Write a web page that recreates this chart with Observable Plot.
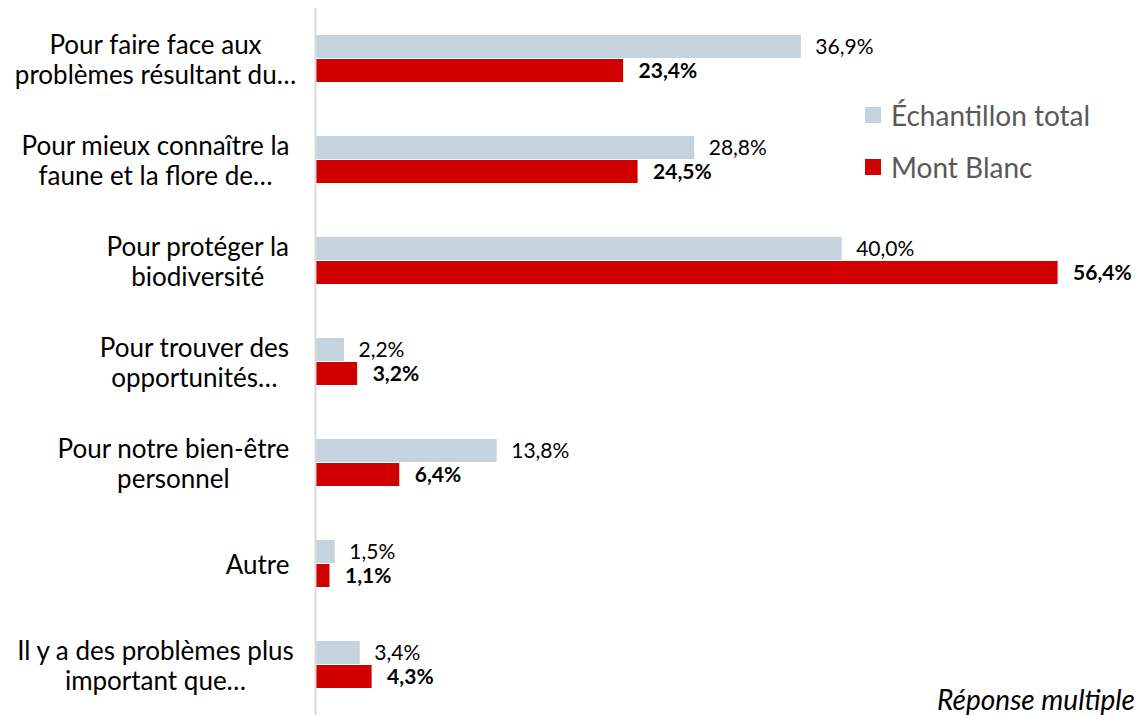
<!DOCTYPE html>
<html>
<head>
<meta charset="utf-8">
<script src="https://cdn.jsdelivr.net/npm/d3@7"></script>
<script src="https://cdn.jsdelivr.net/npm/@observablehq/plot@0.6"></script>
<style>
  html, body { margin: 0; padding: 0; background: #fff; }
  #wrap { position: relative; width: 1141px; height: 716px; font-family: Lato, "Open Sans", sans-serif; }
  #legend { position: absolute; left: 865px; top: 98px; color: #595959; font-size: 28px; }
  .li { display: flex; align-items: center; height: 34px; margin-bottom: 18px; }
  .sw { width: 16px; height: 16px; margin-right: 10px; }
  #note { position: absolute; right: 6px; top: 682px; font-style: italic; font-size: 28px; color: #000; line-height: 34px; }
</style>
</head>
<body>
<div id="wrap"></div>
<script>
const categories = [
  "Pour faire face aux\nproblèmes résultant du…",
  "Pour mieux connaître la\nfaune et la flore de…",
  "Pour protéger la\nbiodiversité",
  "Pour trouver des\nopportunités…",
  "Pour notre bien-être\npersonnel",
  "Autre",
  "Il y a des problèmes plus\nimportant que…"
];
const series = ["Échantillon total", "Mont Blanc"];
const totalValues = [36.9, 28.8, 40.0, 2.2, 13.8, 1.5, 3.4];
const montBlancValues = [23.4, 24.5, 56.4, 3.2, 6.4, 1.1, 4.3];
const colors = ["#C4D3DE", "#D00000"];
const note = "Réponse multiple";

const data = [];
categories.forEach((c, i) => {
  data.push({category: c, series: series[0], value: totalValues[i]});
  data.push({category: c, series: series[1], value: montBlancValues[i]});
});
const fmt = v => v.toFixed(1).replace(".", ",") + "%";

const labelFont = 26;
const ctx = document.createElement("canvas").getContext("2d");
ctx.font = `${labelFont}px Lato`;
const labelMarks = categories.map(c => {
  const w = d3.max(c.split("\n"), l => ctx.measureText(l).width);
  const center = Math.max(289 - w / 2, 155);
  return Plot.text([c], {
    fy: d => d, text: d => d, frameAnchor: "left", textAnchor: "middle",
    dx: center - 315, dy: 0, fontSize: labelFont, lineHeight: 1.15, fill: "#000"
  });
});

const chart = Plot.plot({
  width: 1141,
  height: 716,
  marginLeft: 315,
  marginRight: 36,
  marginTop: 7,
  marginBottom: 0,
  style: {fontFamily: "Lato, 'Open Sans', sans-serif", background: "#fff"},
  x: {domain: [0, 60], axis: null},
  fy: {domain: categories, padding: 0, axis: null},
  y: {domain: series, paddingInner: 0.03, paddingOuter: 1.08, axis: null},
  color: {domain: series, range: colors},
  marks: [
    Plot.barX(data, {fy: "category", y: "series", x: "value", fill: "series"}),
    Plot.text(data.filter(d => d.series === series[0]), {
      fy: "category", y: "series", x: "value", text: d => fmt(d.value),
      textAnchor: "start", dx: 14, fontSize: 21, fill: "#000"
    }),
    Plot.text(data.filter(d => d.series === series[1]), {
      fy: "category", y: "series", x: "value", text: d => fmt(d.value),
      textAnchor: "start", dx: 15, fontSize: 21, fill: "#000", fontWeight: "bold"
    }),
    Plot.ruleX([0], {stroke: "#D9D9D9", strokeWidth: 2}),
    ...labelMarks
  ]
});

const wrap = document.getElementById("wrap");
wrap.appendChild(chart);
const legend = document.createElement("div");
legend.id = "legend";
series.forEach((s, i) => {
  const li = document.createElement("div");
  li.className = "li";
  li.innerHTML = `<div class="sw" style="background:${colors[i]}"></div><span>${s}</span>`;
  legend.appendChild(li);
});
wrap.appendChild(legend);
const n = document.createElement("div");
n.id = "note";
n.textContent = note;
wrap.appendChild(n);
</script>
</body>
</html>
